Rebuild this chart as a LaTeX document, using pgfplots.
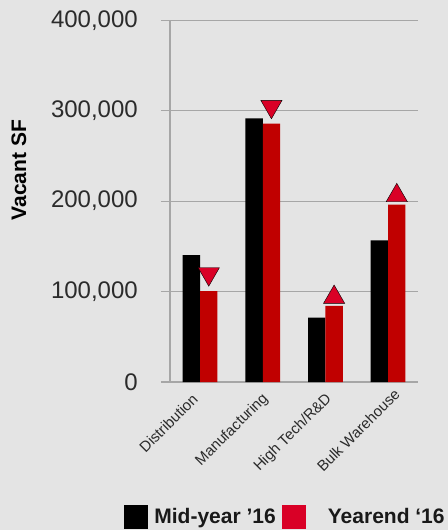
\documentclass[border=0pt]{standalone}
\usepackage{fontspec}
\setmainfont{Liberation Sans}
\usepackage{pgfplots}
\pgfplotsset{compat=1.18}
\definecolor{bg}{HTML}{E4E4E4}
\definecolor{barred}{HTML}{C00000}
\definecolor{trired}{HTML}{D90026}
\definecolor{gridc}{HTML}{A6A6A6}
\definecolor{txt}{HTML}{2B2B2B}
\newcommand{\xl}[3]{\raisebox{-#2}[\height][\depth]{#3}\hspace*{-#1}\null}
\begin{document}
\begin{tikzpicture}
\fill[bg] (0,0) rectangle (448bp,530bp);
\begin{axis}[
  at={(170bp,148bp)}, anchor=south west,
  scale only axis, width=248bp, height=361.7bp,
  xmin=-0.48, xmax=3.477, ymin=0, ymax=400000,
  axis x line=bottom, axis y line=left,
  axis line style={gridc, line width=1.2bp, -},
  xtick={0,1,2,3},
  xticklabels={Distribution,{\xl{5.7bp}{5.7bp}{Manufacturing}},{\xl{6.4bp}{6.4bp}{High Tech/R\&D}},{\xl{13.4bp}{6.4bp}{Bulk Warehouse}}},
  xtick style={draw=none},
  ytick={0,100000,200000,300000,400000},
  ymajorgrids, major grid style={gridc, line width=1.2bp},
  ytick style={gridc, line width=1.2bp},
  tick align=outside, major tick length=9bp,
  scaled y ticks=false,
  /pgf/number format/fixed,
  /pgf/number format/1000 sep={,},
  /pgf/number format/assume math mode=true,
  yticklabel style={font=\fontsize{24bp}{28bp}\selectfont, text=txt, anchor=east, inner sep=0pt, xshift=-23bp},
  xticklabel style={font=\fontsize{15bp}{17bp}\selectfont, text=txt, inner sep=0pt, xshift=-5bp, yshift=-5.5bp, rotate=45, anchor=east},
  ylabel={Vacant SF},
  ylabel style={at={(axis description cs:-0.609,0.586)}, anchor=center, font=\bfseries\fontsize{21bp}{24bp}\selectfont, inner sep=0pt},
  clip=false,
  legend columns=2,
  legend cell align=left,
  legend style={at={(axis description cs:-0.1855,-0.3732)}, anchor=west, draw=none, fill=none, inner sep=0pt, outer sep=0pt,
    font=\bfseries\fontsize{21bp}{24bp}\selectfont, text=black!90,
    nodes={inner sep=0pt},
    /tikz/every odd column/.append style={column sep=7bp},
    /tikz/every even column/.append style={column sep=6bp}},
]
\addplot[ybar, bar width=0.277, bar shift=-0.1385, fill=black, draw=none, forget plot]
  coordinates {(0,140400) (1,291600) (2,71150) (3,156700)};
\addplot[ybar, bar width=0.277, bar shift=0.1385, fill=barred, draw=none, forget plot]
  coordinates {(0,100600) (1,285700) (2,84050) (3,196100)};
\addplot[only marks, mark=triangle*, mark size=12.3bp, mark options={rotate=180, fill=trired, draw=none}, forget plot]
  coordinates {(0.1385,119560) (1.1385,304700)};
\addplot[only marks, mark=triangle*, mark size=12.3bp, mark options={fill=trired, draw=none}, forget plot]
  coordinates {(2.1385,93680) (3.1385,206150)};
\addlegendimage{legend image code/.code={\fill[black] (0bp,-11.5bp) rectangle (23bp,11.5bp);}}
\addlegendentry{Mid-year ’16}
\addlegendimage{legend image code/.code={\fill[trired] (0bp,-11.5bp) rectangle (23bp,11.5bp);}}
\addlegendentry{\hspace{15.7bp}Yearend ‘16}
\end{axis}
\pgfresetboundingbox
\useasboundingbox (0,0) rectangle (448bp,530bp);
\end{tikzpicture}
\end{document}
